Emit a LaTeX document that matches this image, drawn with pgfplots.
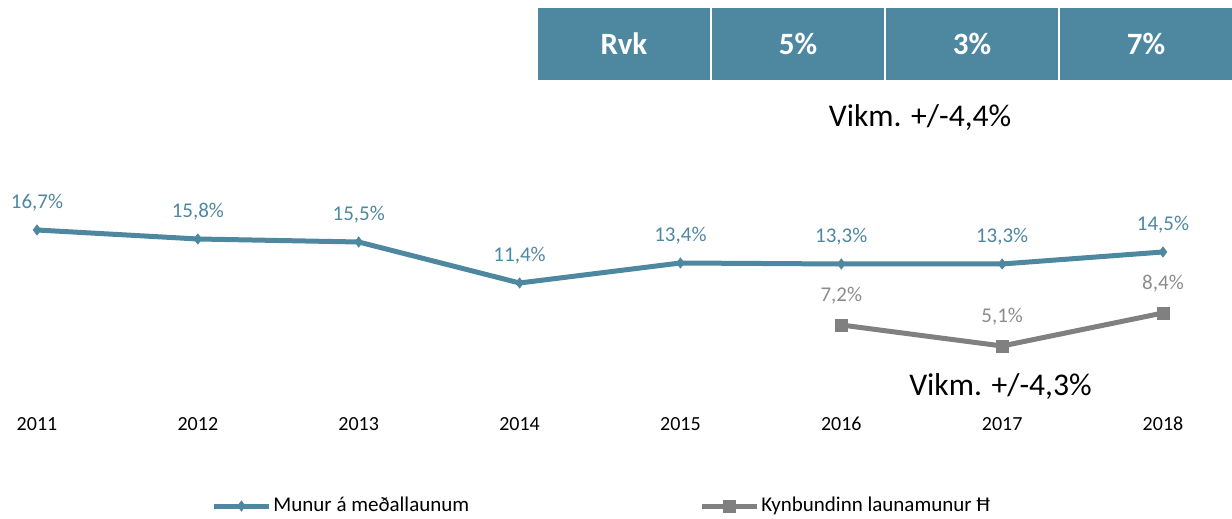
\documentclass[border=0pt]{standalone}
\usepackage{fontspec}
\setmainfont{Carlito}
\usepackage{pgfplots}
\pgfplotsset{compat=1.18}
\definecolor{steel}{HTML}{4E87A0}
\definecolor{greyline}{HTML}{808080}
\definecolor{greylabel}{HTML}{8C8C8C}
\begin{document}
\begin{tikzpicture}
\begin{axis}[name=ax,scale only axis,width=616pt,height=259.5pt,
  xmin=2010.770,xmax=2018.429,ymin=-12.2,ymax=39.7,
  axis x line=middle,axis y line=none,x axis line style={draw=none},
  xtick={2011,2012,2013,2014,2015,2016,2017,2018},
  xticklabels={2011,2012,2013,2014,2015,2016,2017,2018},
  major tick length=0pt,
  xticklabel style={anchor=center,yshift=-13.5pt,font=\fontsize{10}{12}\selectfont},
  clip=false,
  nodes near coords={\pgfmathprintnumber[fixed,fixed zerofill,precision=1,use comma,assume math mode=true]{\pgfplotspointmeta}\%},
  legend columns=2,
  legend style={at={(rel axis cs:0.1713,0.025)},anchor=west,draw=none,fill=none,inner sep=0pt,
    nodes={inner xsep=1pt},
    font=\fontsize{10.5}{12}\selectfont,/tikz/every even column/.append style={column sep=114pt}},
  legend image code/.code={\draw[mark repeat=2,mark phase=2,#1] plot coordinates {(0pt,0pt) (13.75pt,0pt) (27.5pt,0pt)};},
]
% header table
\fill[steel] (axis cs:2014.115,31.7) rectangle (axis cs:2015.184,38.9);
\fill[steel] (axis cs:2015.196,31.7) rectangle (axis cs:2016.266,38.9);
\fill[steel] (axis cs:2016.278,31.7) rectangle (axis cs:2017.347,38.9);
\fill[steel] (axis cs:2017.360,31.7) rectangle (axis cs:2018.429,38.9);
\node[white,font=\fontsize{15.5}{18}\selectfont\bfseries] at (axis cs:2014.649,35.3) {Rvk};
\node[white,font=\fontsize{15.5}{18}\selectfont\bfseries] at (axis cs:2015.731,35.3) {5\%};
\node[white,font=\fontsize{15.5}{18}\selectfont\bfseries] at (axis cs:2016.813,35.3) {3\%};
\node[white,font=\fontsize{15.5}{18}\selectfont\bfseries] at (axis cs:2017.894,35.3) {7\%};
\node[font=\fontsize{15.8}{18}\selectfont] at (axis cs:2016.49,27.9) {Vikm. +/-4,4\%};
\node[font=\fontsize{15.8}{18}\selectfont] at (axis cs:2016.99,1.0) {Vikm. +/-4,3\%};
\addplot[steel,line width=2.5pt,mark=diamond*,mark size=2.5pt,mark options={line width=0.4pt,solid},
  nodes near coords style={steel,anchor=center,yshift=13.5pt,font=\fontsize{10.5}{12}\selectfont}]
  coordinates {(2011,16.7) (2012,15.8) (2013,15.5) (2014,11.4) (2015,13.4) (2016,13.3) (2017,13.3) (2018,14.5)};
\addlegendentry{Munur á meðallaunum}
\addplot[greyline,line width=2.5pt,mark=square*,mark size=3pt,mark options={line width=0.4pt,solid},
  nodes near coords style={greylabel,anchor=center,yshift=14.5pt,font=\fontsize{10.5}{12}\selectfont}]
  coordinates {(2016,7.2) (2017,5.1) (2018,8.4)};
\addlegendentry{Kynbundinn launamunur Ħ}
\end{axis}
\pgfresetboundingbox
\path (ax.south west) rectangle (ax.north east);
\end{tikzpicture}
\end{document}
